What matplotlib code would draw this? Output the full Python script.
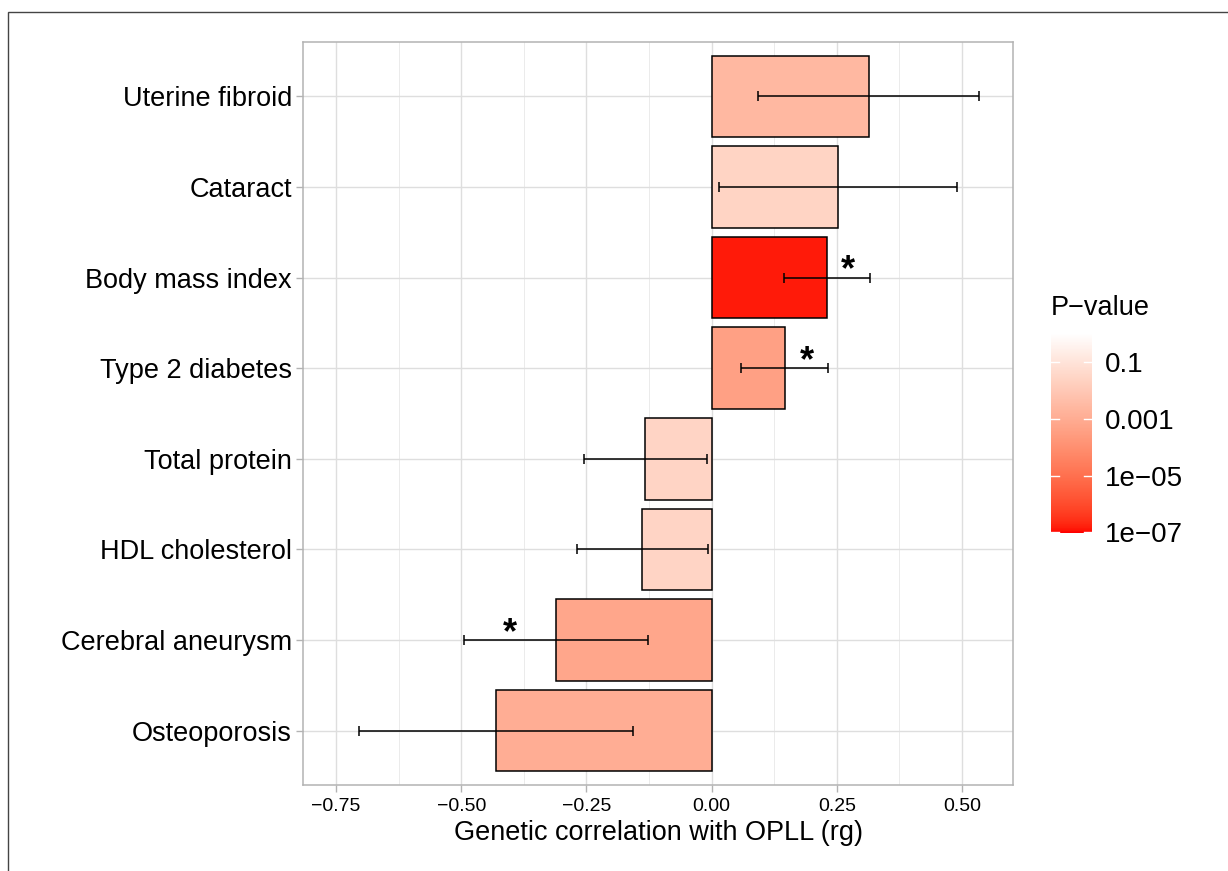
import numpy as np
import matplotlib
matplotlib.use("Agg")
import matplotlib.pyplot as plt
from matplotlib.colors import ListedColormap, LogNorm
from matplotlib.patches import Rectangle
import matplotlib.cm as cm

# ---------------- data ----------------
traits = ["Uterine fibroid", "Cataract", "Body mass index", "Type 2 diabetes",
          "Total protein", "HDL cholesterol", "Cerebral aneurysm", "Osteoporosis"]
rg = [0.314, 0.252, 0.230, 0.146, -0.132, -0.138, -0.311, -0.430]
se = [0.221, 0.238, 0.086, 0.087, 0.122, 0.130, 0.184, 0.274]
pval = [2.6e-3, 2.6e-2, 1.45e-7, 3.6e-4, 2.8e-2, 2.8e-2, 6.0e-4, 1.1e-3]
signif = [False, False, True, True, False, False, True, False]
xticks = [-0.75, -0.50, -0.25, 0.00, 0.25, 0.50]
xticklabels = ["\u22120.75", "\u22120.50", "\u22120.25", "0.00", "0.25", "0.50"]
cb_ticks = [1e-1, 1e-3, 1e-5, 1e-7]
cb_labels = ["0.1", "0.001", "1e\u221205", "1e\u221207"]

# ---------------- Lab gradient (red -> white) ----------------
def srgb_to_lab(rgb):
    rgb = np.asarray(rgb, float)
    lin = np.where(rgb <= 0.04045, rgb / 12.92, ((rgb + 0.055) / 1.055) ** 2.4)
    M = np.array([[0.4124, 0.3576, 0.1805], [0.2126, 0.7152, 0.0722], [0.0193, 0.1192, 0.9505]])
    xyz = M @ lin
    wp = np.array([0.95047, 1.0, 1.08883])
    t = xyz / wp
    f = np.where(t > (6 / 29) ** 3, np.cbrt(t), t / (3 * (6 / 29) ** 2) + 4 / 29)
    return np.array([116 * f[1] - 16, 500 * (f[0] - f[1]), 200 * (f[1] - f[2])])

def lab_to_srgb(lab):
    L, a, b = lab
    fy = (L + 16) / 116
    fx = fy + a / 500
    fz = fy - b / 200
    def finv(f):
        return np.where(f > 6 / 29, f ** 3, 3 * (6 / 29) ** 2 * (f - 4 / 29))
    wp = np.array([0.95047, 1.0, 1.08883])
    xyz = np.array([finv(fx), finv(fy), finv(fz)]) * wp
    Minv = np.array([[3.2406, -1.5372, -0.4986], [-0.9689, 1.8758, 0.0415], [0.0557, -0.2040, 1.0570]])
    lin = Minv @ xyz
    lin = np.clip(lin, 0, 1)
    rgb = np.where(lin <= 0.0031308, 12.92 * lin, 1.055 * lin ** (1 / 2.4) - 0.055)
    return np.clip(rgb, 0, 1)

lab_lo = srgb_to_lab([1, 0, 0])
lab_hi = srgb_to_lab([1, 1, 1])
cols = [lab_to_srgb(lab_lo + (lab_hi - lab_lo) * t) for t in np.linspace(0, 1, 256)]
cmap = ListedColormap(cols)
norm = LogNorm(vmin=10 ** -7.02, vmax=10 ** 0.02)

# ---------------- figure ----------------
W, H = 1228, 871
fig = plt.figure(figsize=(W / 100, H / 100), dpi=100)
plt.rcParams['font.family'] = ['Liberation Sans', 'DejaVu Sans']

# outer border (top & left visible)
fig.patches.append(Rectangle((8 / W, -0.1), 1.2, 1 - 12 / H + 0.1, transform=fig.transFigure,
                             fill=False, edgecolor="#444444", linewidth=1.0, zorder=0))

px0, px1, py0, py1 = 303, 1013, 42, 785
ax = fig.add_axes([px0 / W, 1 - py1 / H, (px1 - px0) / W, (py1 - py0) / H])

n = len(traits)
ypos = np.arange(n)[::-1] + 1  # first trait at top
colors = [cmap(norm(p)) for p in pval]
ax.barh(ypos, rg, height=0.9, color=colors, edgecolor="black", linewidth=1.1, zorder=3)
ax.errorbar(rg, ypos, xerr=se, fmt="none", ecolor="black", elinewidth=1.1,
            capsize=3.3, capthick=1.1, zorder=4)
for x, s, y, sg in zip(rg, se, ypos, signif):
    if sg:
        ax.text(x + np.sign(x) * s / 2, y - 0.12, "*", ha="center", va="bottom",
                fontsize=26, fontweight="bold", zorder=5)

ax.set_xlim(-0.816, 0.602)
ax.set_ylim(0.4, n + 0.6)
ax.set_xticks(xticks)
ax.set_xticklabels(xticklabels, fontsize=14)
ax.set_xticks([-0.625, -0.375, -0.125, 0.125, 0.375], minor=True)
ax.set_yticks(ypos)
ax.set_yticklabels(traits, fontsize=19.5)
ax.tick_params(axis="x", which="major", color="#B3B3B3", length=5, width=1.0, pad=4)
ax.tick_params(axis="y", which="major", color="#B3B3B3", length=5, width=1.0, pad=3)
ax.tick_params(axis="x", which="minor", length=0)
ax.grid(which="major", color="#DEDEDE", linewidth=1.0, zorder=0)
ax.grid(which="minor", axis="x", color="#E8E8E8", linewidth=0.6, zorder=0)
ax.set_axisbelow(True)
for sp in ax.spines.values():
    sp.set_color("#B3B3B3")
    sp.set_linewidth(1.1)
ax.set_xlabel("Genetic correlation with OPLL (rg)", fontsize=19.5, labelpad=4)

# colorbar
cx0, cx1, cy0, cy1 = 1051, 1092, 333, 533
cax = fig.add_axes([cx0 / W, 1 - cy1 / H, (cx1 - cx0) / W, (cy1 - cy0) / H])
sm = cm.ScalarMappable(norm=norm, cmap=cmap)
cb = fig.colorbar(sm, cax=cax)
cb.outline.set_visible(False)
cb.set_ticks(cb_ticks)
cb.set_ticklabels(cb_labels)
cax.minorticks_off()
cax.tick_params(axis="y", which="major", length=0, labelsize=20, pad=9)
for t in cb_ticks:
    cax.plot([0, 0.2], [t, t], color="white", linewidth=1.0, transform=cax.get_yaxis_transform())
    cax.plot([0.8, 1.0], [t, t], color="white", linewidth=1.0, transform=cax.get_yaxis_transform())
fig.text(cx0 / W, 1 - 308 / H, "P\u2212value", fontsize=19.5, ha="left", va="center")

fig.savefig("out.png", dpi=100)
